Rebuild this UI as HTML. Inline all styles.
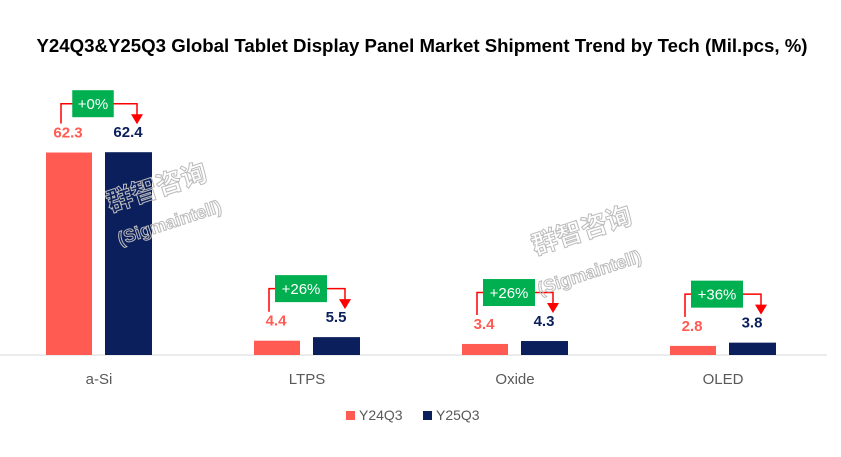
<!DOCTYPE html>
<html><head><meta charset="utf-8">
<style>
body{margin:0;background:#fff;}
svg{display:block;font-family:"Liberation Sans","Noto Sans CJK SC",sans-serif;}
</style></head>
<body>
<svg id="chart" width="841" height="457" viewBox="0 0 841 457" xmlns="http://www.w3.org/2000/svg">
<text x="422" y="52" text-anchor="middle" font-size="18.5" font-weight="bold" fill="#000" textLength="771" lengthAdjust="spacingAndGlyphs">Y24Q3&amp;Y25Q3 Global Tablet Display Panel Market Shipment Trend by Tech (Mil.pcs, %)</text>
<line x1="0" y1="355" x2="827" y2="355" stroke="#d9d9d9" stroke-width="1"/>
<g id="marks"></g>
<g fill="none" stroke="#bbb" stroke-width="1" font-size="26" font-weight="bold">
<text x="110" y="212" transform="rotate(-18 110 212)">群智咨询</text>
<text x="120" y="245" font-size="18" transform="rotate(-18 120 245)">(Sigmaintell)</text>
<text x="535" y="255" transform="rotate(-18 535 255)">群智咨询</text>
<text x="540" y="295" font-size="18" transform="rotate(-18 540 295)">(Sigmaintell)</text>
</g>
<g>
<rect x="346" y="411" width="9" height="9" fill="#ff5b52"/>
<text x="359" y="420" font-size="14" fill="#595959">Y24Q3</text>
<rect x="423" y="411" width="9" height="9" fill="#0b1f5c"/>
<text x="436" y="420" font-size="14" fill="#595959">Y25Q3</text>
</g>
</svg>
<script>
const categories = ["a-Si","LTPS","Oxide","OLED"];
const y24 = [62.3,4.4,3.4,2.8];
const y25 = [62.4,5.5,4.3,3.8];
const growth = ["+0%","+26%","+26%","+36%"];

const NS="http://www.w3.org/2000/svg";
const g=document.getElementById('marks');
const base=355, scale=3.25, x0=99, step=208;
const xC=i=>x0+i*step;
const yV=v=>base-v*scale;
function el(t,a){const e=document.createElementNS(NS,t);for(const k in a)e.setAttribute(k,a[k]);g.appendChild(e);return e;}
categories.forEach((c,i)=>{
  const cx=xC(i);
  const b1=el('rect',{x:cx-53,y:yV(y24[i]),width:46,height:y24[i]*scale,fill:'#ff5b52'});
  
  
  const b2=el('rect',{x:cx+6,y:yV(y25[i]),width:47,height:y25[i]*scale,fill:'#0b1f5c'});
  
  
  const ly1=yV(y24[i])-15, ly2=yV(y25[i])-15;
  const t1=el('text',{x:cx-31,y:ly1,'text-anchor':'middle','font-size':15,'font-weight':'bold',fill:'#ff5b52'});
  t1.textContent=y24[i].toFixed(1);
  
  
  const t2=el('text',{x:cx+29,y:ly2,'text-anchor':'middle','font-size':15,'font-weight':'bold',fill:'#0b1f5c'});
  t2.textContent=y25[i].toFixed(1);
  
  
  const top=Math.min(ly1,ly2)-14;
  const boxTop=top-33, boxH=27, mid=boxTop+boxH/2;
  const w=growth[i].length*10.5+10;
  const lx=cx-38, rx=cx+38;
  const br=el('polyline',{points:`${lx},${ly1-14} ${lx},${mid} ${rx},${mid} ${rx},${ly2-22}`,fill:'none',stroke:'#ff0000','stroke-width':1.5});
  
  
  const ar=el('polygon',{points:`${rx-6},${ly2-23} ${rx+6},${ly2-23} ${rx},${ly2-13}`,fill:'#ff0000'});
  
  
  const bx=el('rect',{x:cx-6-w/2,y:boxTop,width:w,height:boxH,fill:'#00b050'});
  
  
  const gt=el('text',{x:cx-6,y:boxTop+19,'text-anchor':'middle','font-size':15,fill:'#fff'});
  gt.textContent=growth[i];
  
  
  const ct=el('text',{x:cx,y:384,'text-anchor':'middle','font-size':15,fill:'#595959'});
  ct.textContent=c;
  
  
});
</script>
</body></html>
